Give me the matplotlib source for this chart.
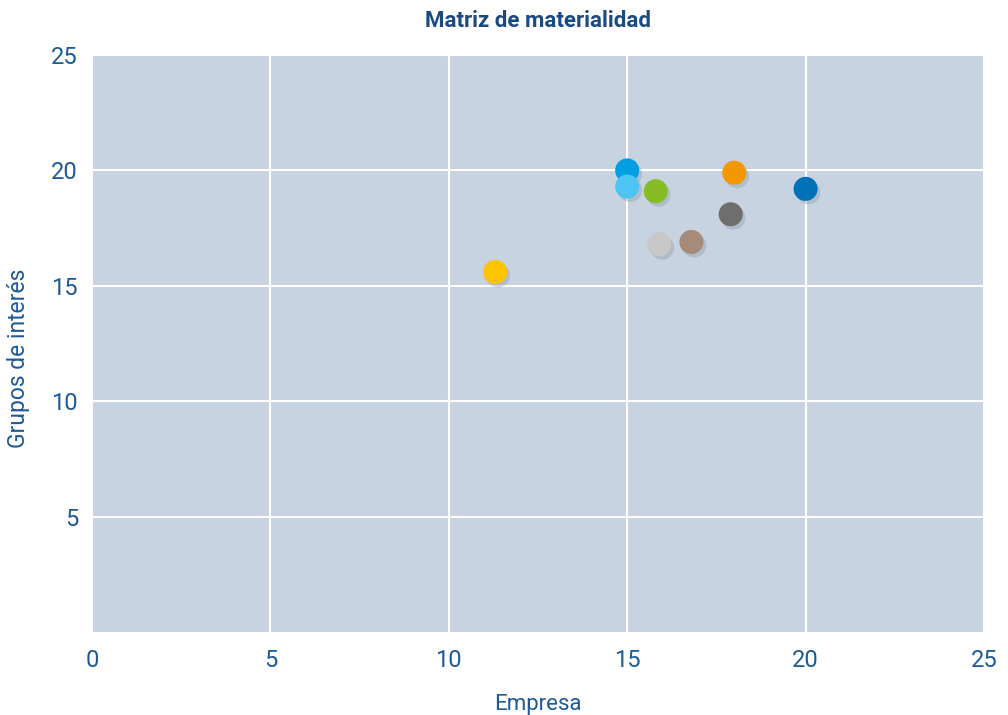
import matplotlib.pyplot as plt
import matplotlib.patheffects as pe

plt.rcParams['font.family'] = ['Roboto', 'DejaVu Sans']

# empresa (x) vs grupos de interés (y)
empresa = [15.0, 15.0, 15.8, 18.0, 20.0, 17.9, 15.9, 16.8, 11.3]
grupos = [20.0, 19.3, 19.1, 19.9, 19.2, 18.1, 16.8, 16.9, 15.6]
colores = ['#009ee2', '#4ec4f2', '#86bc25', '#f39800', '#0070b8',
           '#6e6e6e', '#c8c8c8', '#a68b7a', '#ffc400']

azul = '#1d5a96'

fig = plt.figure(figsize=(10.08, 7.15), dpi=100)
ax = fig.add_axes([92 / 1008, 1 - 632 / 715, 892 / 1008, 577 / 715])
ax.set_facecolor('#c7d3e1')

sc = ax.scatter(empresa, grupos, s=300, c=colores, zorder=3, linewidths=0)
sc.set_path_effects([pe.SimplePatchShadow(offset=(2, -2.5), shadow_rgbFace='#7a8796', alpha=0.3),
                     pe.Normal()])

ax.set_xlim(0, 25)
ax.set_ylim(0, 25)
ax.set_xticks([0, 5, 10, 15, 20, 25])
ax.set_yticks([5, 10, 15, 20, 25])
ax.grid(True, color='white', linewidth=1.5)
ax.set_axisbelow(True)
for s in ax.spines.values():
    s.set_visible(False)
ax.tick_params(length=0, labelsize=17, colors=azul, pad=12)
ax.tick_params(axis='y', pad=10)

ax.set_xlabel('Empresa', fontsize=16, color=azul, labelpad=16)
ax.set_ylabel('Grupos de interés', fontsize=16.5, color=azul)
ax.yaxis.set_label_coords(-0.069, 0.475)
ax.set_title('Matriz de materialidad', fontsize=16, fontweight='bold', color='#1a4a80', pad=20)

fig.savefig('out.png', dpi=100)
